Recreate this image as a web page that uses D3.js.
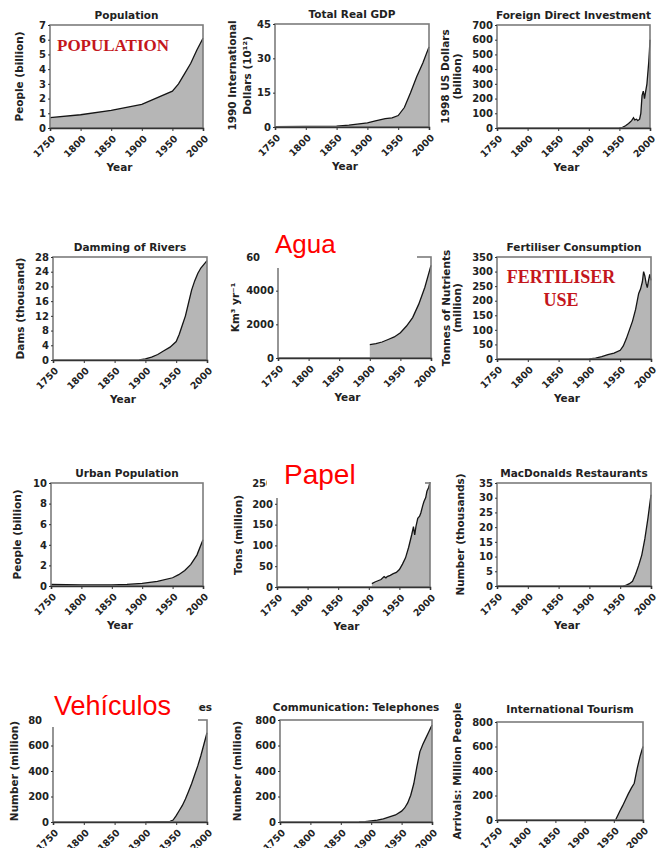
<!DOCTYPE html>
<html>
<head>
<meta charset="utf-8">
<script src="https://cdn.jsdelivr.net/npm/d3@7"></script>
<style>
body { margin: 0; background: #fff; }
svg { display: block; }
</style>
</head>
<body>
<script>
// ---- data ----
var xTicks = [1750, 1800, 1850, 1900, 1950, 2000];

var popYears  = [1750, 1800, 1850, 1900, 1950, 1960, 1970, 1980, 1990, 2000];
var popValues = [0.7, 0.9, 1.2, 1.6, 2.5, 3.0, 3.7, 4.4, 5.3, 6.1];
var popTicks  = [0, 1, 2, 3, 4, 5, 6, 7];

var gdpYears  = [1750, 1800, 1850, 1870, 1900, 1913, 1929, 1940, 1950, 1960, 1970, 1980, 1990, 2000];
var gdpValues = [0.2, 0.3, 0.4, 0.8, 1.8, 2.7, 3.7, 4.0, 5.0, 8.5, 15, 22, 28, 35];
var gdpTicks  = [0, 15, 30, 45];

var fdiYears  = [1950, 1955, 1960, 1965, 1970, 1973, 1975, 1978, 1980, 1983, 1985, 1987, 1989, 1990, 1991, 1993, 1995, 1997, 1998, 1999, 2000];
var fdiValues = [0, 5, 15, 30, 50, 70, 55, 60, 50, 60, 100, 220, 250, 230, 200, 250, 300, 400, 450, 520, 600];
var fdiTicks  = [0, 100, 200, 300, 400, 500, 600, 700];

var damYears  = [1890, 1900, 1910, 1920, 1930, 1940, 1950, 1955, 1960, 1965, 1970, 1975, 1980, 1985, 1990, 1995, 2000];
var damValues = [0, 0.3, 0.8, 1.5, 2.5, 3.5, 5, 7, 9.5, 12, 15.5, 19, 21.5, 23.5, 25, 26, 27];
var damTicks  = [0, 4, 8, 12, 16, 20, 24, 28];

var waterYears  = [1900, 1910, 1920, 1930, 1940, 1950, 1960, 1970, 1980, 1990, 2000];
var waterValues = [800, 850, 950, 1100, 1250, 1500, 1900, 2400, 3200, 4200, 5500];
var waterTicks  = [0, 2000, 4000, 6000];

var fertYears  = [1900, 1910, 1920, 1930, 1940, 1950, 1955, 1960, 1965, 1970, 1975, 1980, 1983, 1986, 1988, 1990, 1992, 1994, 1996, 1998, 2000];
var fertValues = [0, 3, 8, 15, 20, 30, 45, 70, 100, 130, 170, 225, 240, 265, 300, 285, 260, 245, 270, 290, 270];
var fertTicks  = [0, 50, 100, 150, 200, 250, 300, 350];

var urbanYears  = [1750, 1800, 1850, 1875, 1900, 1925, 1950, 1960, 1970, 1980, 1990, 2000];
var urbanValues = [0.15, 0.1, 0.1, 0.15, 0.25, 0.45, 0.8, 1.1, 1.5, 2.1, 3.0, 4.5];
var urbanTicks  = [0, 2, 4, 6, 8, 10];

var paperYears  = [1905, 1910, 1915, 1920, 1925, 1928, 1930, 1935, 1940, 1945, 1950, 1955, 1960, 1965, 1970, 1973, 1975, 1977, 1980, 1983, 1985, 1988, 1990, 1993, 1995, 1998, 2000];
var paperValues = [8, 12, 15, 18, 25, 22, 25, 28, 32, 35, 42, 55, 70, 95, 125, 145, 125, 145, 165, 170, 178, 195, 205, 215, 230, 240, 252];
var paperTicks  = [0, 50, 100, 150, 200, 250];

var mcdYears  = [1955, 1960, 1965, 1970, 1975, 1980, 1985, 1990, 1995, 2000];
var mcdValues = [0, 0.3, 0.8, 1.6, 4, 7, 10.5, 16, 23, 31];
var mcdTicks  = [0, 5, 10, 15, 20, 25, 30, 35];

var vehYears  = [1900, 1940, 1945, 1950, 1955, 1960, 1965, 1970, 1975, 1980, 1985, 1990, 1995, 2000];
var vehValues = [0, 5, 15, 50, 90, 130, 180, 240, 300, 370, 440, 520, 610, 700];
var vehTicks  = [0, 200, 400, 600, 800];

var telYears  = [1880, 1890, 1900, 1910, 1920, 1930, 1940, 1950, 1955, 1960, 1965, 1970, 1975, 1980, 1985, 1990, 1995, 2000];
var telValues = [0, 2, 8, 15, 25, 40, 55, 85, 110, 150, 210, 300, 430, 550, 610, 660, 710, 760];
var telTicks  = [0, 200, 400, 600, 800];

var tourYears  = [1953, 1960, 1965, 1970, 1975, 1980, 1985, 1990, 1995, 2000];
var tourValues = [0, 70, 115, 165, 215, 260, 300, 420, 520, 600];
var tourTicks  = [0, 200, 400, 600, 800];

// titles hidden under the pasted labels in the picture are left blank
var titles = ["Population", "Total Real GDP", "Foreign Direct Investment",
              "Damming of Rivers", "", "Fertiliser Consumption",
              "Urban Population", "", "MacDonalds Restaurants",
              "Motor Vehicles", "Communication: Telephones", "International Tourism"];

var yLabels = [["People (billion)"], ["1990 International", "Dollars (10\u00B9\u00B2)"], ["1998 US Dollars", "(billion)"],
               ["Dams (thousand)"], ["Km\u00B3 yr\u207B\u00B9"], ["Tonnes of Nutrients", "(million)"],
               ["People (billion)"], ["Tons (million)"], ["Number (thousands)"],
               ["Number (million)"], ["Number (million)"], ["Arrivals: Million People"]];

var seriesYears  = [popYears, gdpYears, fdiYears, damYears, waterYears, fertYears, urbanYears, paperYears, mcdYears, vehYears, telYears, tourYears];
var seriesValues = [popValues, gdpValues, fdiValues, damValues, waterValues, fertValues, urbanValues, paperValues, mcdValues, vehValues, telValues, tourValues];
var seriesTicks  = [popTicks, gdpTicks, fdiTicks, damTicks, waterTicks, fertTicks, urbanTicks, paperTicks, mcdTicks, vehTicks, telTicks, tourTicks];

var redLabels = ["POPULATION", "FERTILISER", "USE", "Agua", "Papel", "Veh\u00EDculos"];

// ---- layout ----
var totalWidth = 661, totalHeight = 848;
// plot boxes: left, top, width, height
var boxes = [
  [50, 25, 153, 103], [275, 24, 154, 103], [497, 25, 153, 103],
  [53, 257, 154, 103], [278, 257, 153, 101], [497, 257, 154, 102],
  [51, 483, 152, 103], [277, 483, 153, 104], [497, 483, 154, 103],
  [53, 720, 154, 102], [280, 720, 152, 102], [497, 722, 146, 98]
];
var yLabelOffsets = [[-31], [-43, -28], [-52, -40], [-33], [-43], [-51, -40],
                     [-34], [-39], [-37], [-39], [-43], [-40]];

var font = "'DejaVu Sans', Verdana, sans-serif";
var ink = "#222";

var svg = d3.select("body").append("svg")
    .attr("width", totalWidth)
    .attr("height", totalHeight);

seriesValues.forEach(function(values, i) {
  var b = boxes[i];
  var w = b[2], h = b[3];
  var ticks = seriesTicks[i];
  var data = values.map(function(v, j) { return {year: seriesYears[i][j], value: v}; });

  var g = svg.append("g").attr("transform", "translate(" + b[0] + "," + b[1] + ")");

  var xScale = d3.scaleLinear().domain([1750, 2000]).range([0, w]);
  var yScale = d3.scaleLinear().domain([0, ticks[ticks.length - 1]]).range([h, 0]);

  var area = d3.area()
      .x(function(d) { return xScale(d.year); })
      .y0(h)
      .y1(function(d) { return yScale(d.value); });
  var line = d3.line()
      .x(function(d) { return xScale(d.year); })
      .y(function(d) { return yScale(d.value); });

  g.append("path").datum(data).attr("d", area).attr("fill", "#b6b6b6");
  g.append("path").datum(data).attr("d", line)
      .attr("fill", "none").attr("stroke", "#151515").attr("stroke-width", 1.3);

  g.append("rect").attr("width", w).attr("height", h)
      .attr("fill", "none").attr("stroke", "#7c7c7c").attr("stroke-width", 1.6);

  var xAxisG = g.append("g").attr("transform", "translate(0," + h + ")")
      .call(d3.axisBottom(xScale).tickValues(xTicks).tickSize(3).tickFormat(d3.format("d")));
  xAxisG.select(".domain").attr("stroke", "#333").attr("stroke-width", 1.6);
  xAxisG.selectAll(".tick line").attr("stroke", "#333");
  xAxisG.selectAll(".tick text")
      .attr("x", 0).attr("y", 0).attr("dy", "0.35em")
      .attr("transform", "translate(3,9) rotate(-45)")
      .style("text-anchor", "end")
      .style("font", "bold 9.5px " + font)
      .attr("fill", ink);

  var yAxisG = g.append("g")
      .call(d3.axisLeft(yScale).tickValues(ticks).tickSize(2).tickPadding(2).tickFormat(function(d) { return d; }));
  yAxisG.select(".domain").remove();
  yAxisG.selectAll(".tick line").attr("stroke", "#333");
  yAxisG.selectAll(".tick text")
      .style("font", "bold 10px " + font)
      .attr("fill", ink);

  // title
  if (titles[i]) {
    var row = Math.floor(i / 3);
    var title = g.append("text")
        .attr("y", row === 3 ? -9 : -6)
        .style("font", "bold 10.5px " + font)
        .attr("fill", ink)
        .text(titles[i]);
    if (i === 9) {
      title.attr("x", 212 - b[0]).style("text-anchor", "end");
    } else {
      title.attr("x", w / 2).style("text-anchor", "middle");
    }
  }

  // y label
  yLabels[i].forEach(function(txt, k) {
    g.append("text")
        .attr("transform", "translate(" + yLabelOffsets[i][k] + "," + (h / 2) + ") rotate(-90)")
        .attr("dy", "0.35em")
        .style("text-anchor", "middle")
        .style("font", "bold 10.5px " + font)
        .attr("fill", ink)
        .text(txt);
  });

  // x label
  g.append("text")
      .attr("x", w / 2 - 7).attr("y", h + 43)
      .style("text-anchor", "middle")
      .style("font", "bold 10.5px " + font)
      .attr("fill", ink)
      .text("Year");
});

// ---- overlaid annotations ----
var white = [[260, 228, 157, 40], [267, 458, 158, 40], [42, 688, 156, 39]];
white.forEach(function(r) {
  svg.append("rect").attr("x", r[0]).attr("y", r[1]).attr("width", r[2]).attr("height", r[3]).attr("fill", "#fff");
});

var serif = "'Liberation Serif', 'Times New Roman', serif";
var sans = "'Liberation Sans', Arial, sans-serif";

svg.append("text").attr("x", 57).attr("y", 51)
    .style("font", "bold 17px " + serif).attr("fill", "#c4161c").text(redLabels[0]);
svg.append("text").attr("x", 561).attr("y", 283).style("text-anchor", "middle")
    .style("font", "bold 18px " + serif).attr("fill", "#c4161c").text(redLabels[1]);
svg.append("text").attr("x", 561).attr("y", 306).style("text-anchor", "middle")
    .style("font", "bold 18px " + serif).attr("fill", "#c4161c").text(redLabels[2]);
svg.append("text").attr("x", 275).attr("y", 253)
    .style("font", "26px " + sans).attr("fill", "#ff0000").text(redLabels[3]);
svg.append("text").attr("x", 284).attr("y", 484)
    .style("font", "28px " + sans).attr("fill", "#ff0000").text(redLabels[4]);
svg.append("text").attr("x", 54).attr("y", 715)
    .style("font", "27px " + sans).attr("fill", "#ff0000").text(redLabels[5]);
</script>
</body>
</html>
